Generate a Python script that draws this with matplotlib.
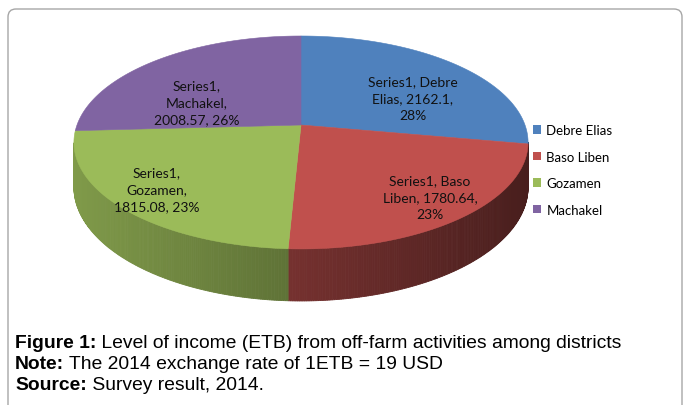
import numpy as np
import matplotlib.pyplot as plt
from matplotlib.patches import Polygon, FancyBboxPatch, Rectangle
import matplotlib.colors as mcolors

# data
districts = ['Debre Elias', 'Baso Liben', 'Gozamen', 'Machakel']
income = [2162.1, 1780.64, 1815.08, 2008.57]
series_name = 'Series1'
colors = ['#4F81BD', '#C0504D', '#9BBB59', '#8064A2']

caption_lines = [
    ('Figure 1:', ' Level of income (ETB) from off-farm activities among districts'),
    ('Note:', ' The 2014 exchange rate of 1ETB = 19 USD'),
    ('Source:', ' Survey result, 2014.'),
]

W, H = 683, 406
fig = plt.figure(figsize=(W / 100, H / 100), dpi=100)
ax = fig.add_axes([0, 0, 1, 1])
ax.set_xlim(0, W)
ax.set_ylim(H, 0)
ax.axis('off')

# outer frame (rounded box, bottom runs off the picture)
ax.add_patch(FancyBboxPatch((8, 10), 674, 420, boxstyle='round,pad=0,rounding_size=8',
                            fc='white', ec='#a6a6a6', lw=1.0))

# 3D pie geometry in pixels, with a bit of perspective
cx, cy = 301, 126
rx, ry = 224, 103.6
k = 0.164
depth = 43.5


def proj(theta, r=1.0):
    u, v = r * np.cos(theta), r * np.sin(theta)
    s = 1 + k * v
    return cx + rx * u / s, cy - ry * v / s, depth / s


fracs = np.array(income) / sum(income)
starts = np.pi / 2 - 2 * np.pi * np.concatenate([[0], np.cumsum(fracs)[:-1]])
ends = starts - 2 * np.pi * fracs

xmin, xmax = cx - rx, cx + rx

# side walls (visible front part only), shaded darker towards the right
for st, en, col in zip(starts, ends, colors):
    base = np.array(mcolors.to_rgb(col))
    th = np.linspace(st, en, int(abs(en - st) / np.radians(0.5)) + 2)
    for a, b in zip(th[:-1], th[1:]):
        if np.sin(0.5 * (a + b)) > -k:
            continue
        xa, ya, da = proj(a)
        xb, yb, db = proj(b)
        f = 0.82 - 0.44 * ((xa + xb) / 2 - xmin) / (xmax - xmin)
        c = np.clip(base * f, 0, 1)
        ax.add_patch(Polygon([(xa, ya), (xb, yb), (xb, yb + db), (xa, ya + da)],
                             closed=True, fc=c, ec=c, lw=0.6))

# top faces
for st, en, col in zip(starts, ends, colors):
    th = np.linspace(st, en, 200)
    xs, ys, _ = proj(th)
    pts = [(cx, cy)] + list(zip(xs, ys))
    ax.add_patch(Polygon(pts, closed=True, fc=col, ec=col, lw=0.4))

# data labels
label_font = ['Lato', 'DejaVu Sans']
label_xy = [(413, 99), (430, 198), (157, 190), (197, 103)]
label_text = [
    '{}, Debre\nElias, {},\n{:.0%}',
    '{}, Baso\nLiben, {},\n{:.0%}',
    '{},\nGozamen,\n{}, {:.0%}',
    '{},\nMachakel,\n{}, {:.0%}',
]
for (lx, ly), fmt, val, fr in zip(label_xy, label_text, income, fracs):
    ax.text(lx, ly, fmt.format(series_name, val, fr), ha='center', va='center',
            fontsize=10, family=label_font, linespacing=1.5, color='#111111')

# legend
handles = [Rectangle((0, 0), 1, 1, fc=c, ec='none') for c in colors]
ax.legend(handles, districts, loc='upper left', bbox_to_anchor=(533 / W, 1 - 125 / H),
          frameon=False, borderpad=0, borderaxespad=0,
          handlelength=0.62, handleheight=0.62, handletextpad=0.4,
          labelspacing=1.1, prop={'family': label_font, 'size': 9.5})

# caption
cap_font = ['Liberation Sans', 'DejaVu Sans']
for i, (bold, rest) in enumerate(caption_lines):
    t = ax.text(15, 348 + i * 21, bold, fontsize=13.9, fontweight='bold',
                family=cap_font, va='baseline', ha='left')
    ax.annotate(rest, xy=(1, 0), xycoords=t, va='bottom', ha='left',
                fontsize=13.9, family=cap_font)

fig.savefig('out.png', dpi=100)
